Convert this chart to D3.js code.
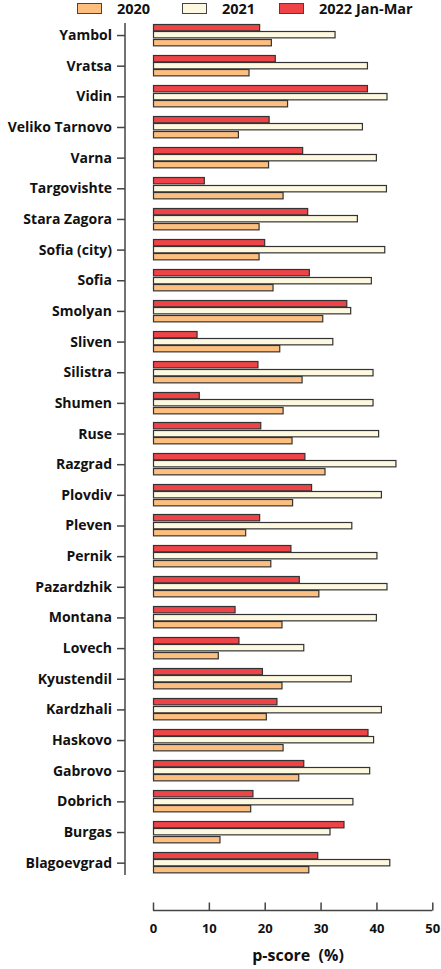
<!DOCTYPE html>
<html><head><meta charset="utf-8">
<script src="https://cdn.jsdelivr.net/npm/d3@7"></script>
<style>body{margin:0;background:#fff}svg{display:block}text{font-family:"Open Sans",sans-serif;font-weight:700;fill:#111}</style>
</head><body><svg id="c" width="441" height="969"></svg>
<script>
const categories = ["Yambol","Vratsa","Vidin","Veliko Tarnovo","Varna","Targovishte","Stara Zagora","Sofia (city)","Sofia","Smolyan","Sliven","Silistra","Shumen","Ruse","Razgrad","Plovdiv","Pleven","Pernik","Pazardzhik","Montana","Lovech","Kyustendil","Kardzhali","Haskovo","Gabrovo","Dobrich","Burgas","Blagoevgrad"];
const v2022 = [19.0,21.8,38.3,20.7,26.7,9.1,27.6,19.9,27.9,34.6,7.8,18.7,8.2,19.2,27.1,28.3,19.0,24.6,26.1,14.6,15.3,19.5,22.1,38.4,26.9,17.8,34.1,29.4];
const v2021 = [32.5,38.3,41.8,37.4,39.9,41.7,36.5,41.4,39.0,35.3,32.1,39.3,39.3,40.3,43.4,40.8,35.5,40.0,41.8,39.9,26.9,35.4,40.8,39.4,38.7,35.7,31.6,42.3];
const v2020 = [21.1,17.1,24.0,15.2,20.6,23.2,18.9,18.9,21.4,30.3,22.6,26.6,23.2,24.8,30.7,24.9,16.5,21.0,29.6,23.0,11.6,23.0,20.2,23.2,26.0,17.4,11.9,27.8];
const seriesNames = ["2022 Jan-Mar","2021","2020"];
const legendOrder = ["2020","2021","2022 Jan-Mar"];
const xTicks = [0,10,20,30,40,50];
const colors = {"2020":"#fdbf80","2021":"#fdf9e0","2022 Jan-Mar":"#ee4347"};
const values = {"2022 Jan-Mar":v2022,"2021":v2021,"2020":v2020};

const svg = d3.select("#c");
const x = d3.scaleLinear().domain([0,50]).range([153,432.3]);
const y = d3.scaleBand().domain(categories).range([19.7,878]).paddingInner(0.28).paddingOuter(0.14);
const ys = d3.scaleBand().domain(seriesNames).range([0,y.bandwidth()]);

// bars
const g = svg.append("g");
categories.forEach((c,i)=>{
  seriesNames.forEach(s=>{
    g.append("rect")
      .attr("x",x(0)+0.5)
      .attr("y",Math.round(y(c)+ys(s))+0.5)
      .attr("width",x(values[s][i])-x(0))
      .attr("height",ys.bandwidth()-1)
      .attr("fill",colors[s])
      .attr("stroke","#333").attr("stroke-width",1.2);
  });
});

// y axis
const yAxis = svg.append("g").attr("transform","translate(125,0)")
  .call(d3.axisLeft(d3.scalePoint().domain(categories).range([y(categories[0])+y.bandwidth()/2, y(categories[categories.length-1])+y.bandwidth()/2])).tickSize(8).tickPadding(5));
yAxis.select(".domain").remove();
yAxis.append("line").attr("x1",0).attr("x2",0).attr("y1",23).attr("y2",875).attr("stroke","#444").attr("stroke-width",1.5);
yAxis.selectAll(".tick line").attr("stroke","#444").attr("stroke-width",1.5);
yAxis.selectAll(".tick text").style("font-size","14px").attr("fill","#111");

// x axis
const xAxis = svg.append("g").attr("transform","translate(0,910.5)")
  .call(d3.axisBottom(x).tickValues(xTicks).tickSize(-8).tickPadding(13).tickFormat(d3.format("d")));
xAxis.select(".domain").attr("d",`M${x(0)},0H${x(50)}`).attr("stroke","#444").attr("stroke-width",1.5);
xAxis.selectAll(".tick line").attr("stroke","#444").attr("stroke-width",1.5);
xAxis.selectAll(".tick text").style("font-size","13px").attr("fill","#111");

svg.append("text").attr("x",298).attr("y",961).attr("text-anchor","middle").style("font-size","16px").attr("xml:space","preserve").text("p-score  (%)");

// legend
const legX = {"2020":[77,117],"2021":[182,222],"2022 Jan-Mar":[279,319]};
legendOrder.forEach(s=>{
  svg.append("rect").attr("x",legX[s][0]+0.5).attr("y",3.5).attr("width",24).attr("height",10).attr("fill",colors[s]).attr("stroke","#444").attr("stroke-width",1);
  svg.append("text").attr("x",legX[s][1]).attr("y",14).style("font-size","14.5px").text(s);
});
</script></body></html>
